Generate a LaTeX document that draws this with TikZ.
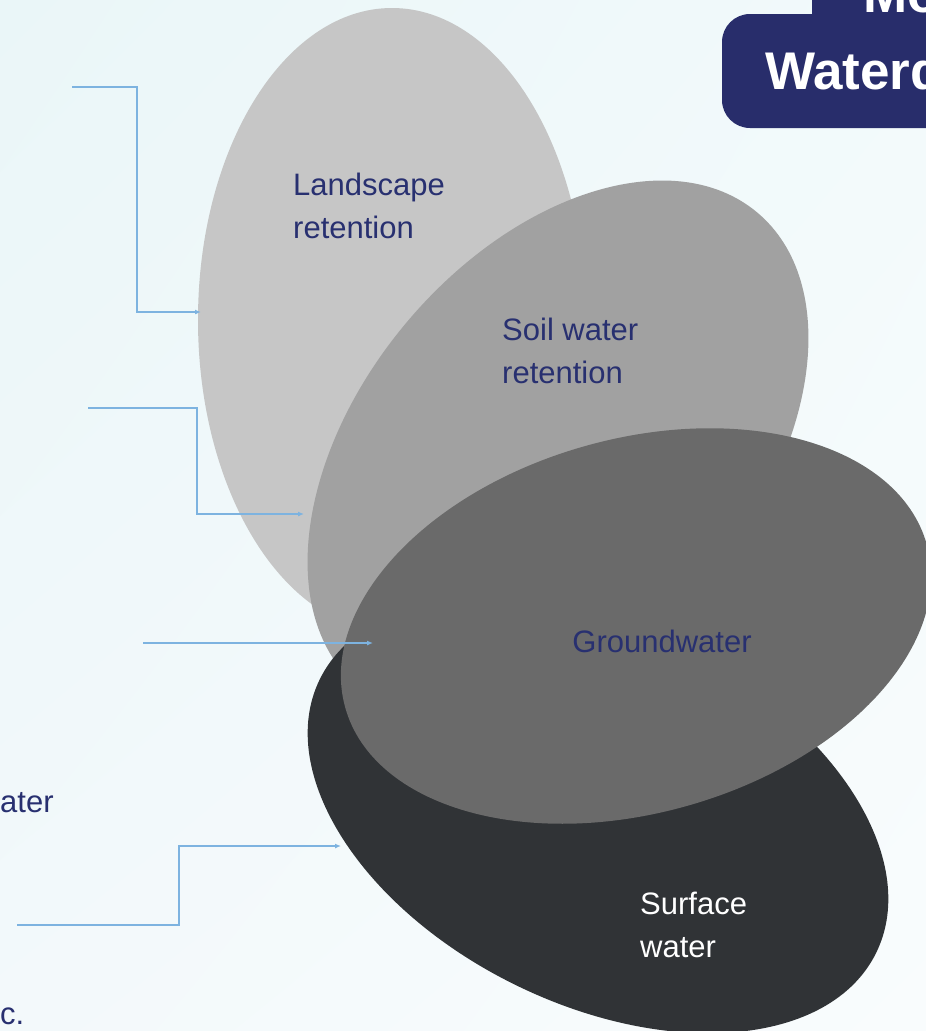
\documentclass[tikz,border=0pt]{standalone}
\usepackage{fontspec}
\setmainfont{Liberation Sans}
\usetikzlibrary{arrows.meta,shadings}
\definecolor{navy}{HTML}{283070}
\definecolor{boxnavy}{HTML}{282D6B}
\definecolor{cland}{HTML}{C6C6C6}
\definecolor{csoil}{HTML}{A1A1A1}
\definecolor{cground}{HTML}{6A6A6A}
\definecolor{csurf}{HTML}{303336}
\definecolor{cline}{HTML}{7DB3E0}
\definecolor{bgA}{HTML}{EAF6F8}
\definecolor{bgB}{HTML}{F2FAFB}
\definecolor{bgC}{HTML}{F3F9FB}
\definecolor{bgD}{HTML}{F9FCFD}
\tikzset{
  lbl/.style={font=\fontsize{31}{43}\selectfont, text=navy, align=left, inner sep=0pt},
  conn/.style={draw=cline, line width=1.5pt, -{Latex[length=6pt,width=5pt]}},
  title/.style={font=\fontsize{53}{60}\selectfont\bfseries, text=white, inner sep=0pt}
}
\begin{document}
\begin{tikzpicture}[x=1pt,y=-1pt]
\useasboundingbox (0,0) rectangle (926,1031);
\clip (0,0) rectangle (926,1031);
\shade[upper left=bgA, upper right=bgB, lower left=bgC, lower right=bgD] (0,0) rectangle (926,1031);
% title boxes
\fill[boxnavy, rounded corners=28pt] (812,-60) rectangle (990,40);
\fill[boxnavy, rounded corners=28pt] (722,14) rectangle (990,128);
\node[title, anchor=base west] (t1) at (863,12) {Mo};
\node[title, anchor=base west] (t2) at (765,89) {Waterd};
% ellipses
\fill[cland] (392,320) ellipse [x radius=194pt, y radius=312pt];
\fill[csoil, rotate around={50:(558,450)}] (558,450) ellipse [x radius=310pt, y radius=198pt];
\fill[csurf, rotate around={-26.2:(598,816)}] (598,816) ellipse [x radius=310pt, y radius=188pt];
\fill[cground, rotate around={15.7:(636,626)}] (636,626) ellipse [x radius=302pt, y radius=187pt];
% labels
\node[lbl, anchor=north west] (land) at (293,173) {Landscape\\retention};
\node[lbl, anchor=north west] (soil) at (502,318) {Soil water\\retention};
\node[lbl] (ground) at (662,641) {Groundwater};
\node[lbl, text=white, anchor=north west] (surf) at (640,892) {Surface\\water};
\node[lbl, anchor=base west] (lw) at (0,812) {ater};
\node[lbl, anchor=base west] (le) at (0,1024) {c.};
% connectors
\coordinate (s1) at (72,87);   \coordinate (k1) at (137,200); \coordinate (e1) at (201,312);
\coordinate (s2) at (88,408);  \coordinate (k2) at (197,460); \coordinate (e2) at (304,514);
\coordinate (s3) at (143,643); \coordinate (e3) at (373,643);
\coordinate (s4) at (17,925);  \coordinate (k4) at (179,880); \coordinate (e4) at (341,846);
\draw[conn] (s1) -| (k1) |- (e1);
\draw[conn] (s2) -| (k2) |- (e2);
\draw[conn] (s3) -- (e3);
\draw[conn] (s4) -| (k4) |- (e4);
\end{tikzpicture}
\end{document}
